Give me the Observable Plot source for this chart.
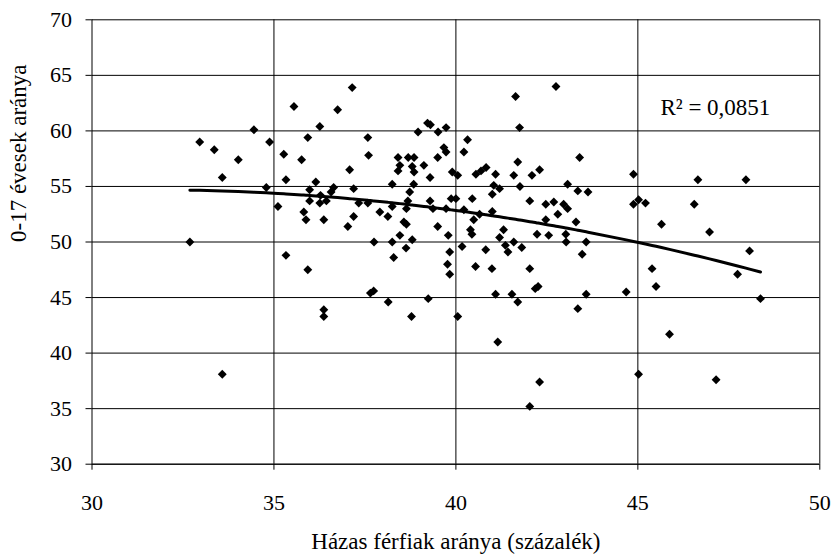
<!DOCTYPE html>
<html>
<head>
<meta charset="utf-8">
<script src="https://cdn.jsdelivr.net/npm/d3@7"></script>
<script src="https://cdn.jsdelivr.net/npm/@observablehq/plot@0.6"></script>
<style>
  html, body { margin: 0; padding: 0; background: #fff; }
  #chart { width: 833px; height: 558px; }
  #chart svg, #chart svg text { font-family: "Liberation Serif", "Times New Roman", serif !important; }
</style>
</head>
<body>
<div id="chart"></div>
<script>
// ---- data ----
const xValues = [
  37.15, 35.55, 36.75, 36.26, 34.45, 32.96, 33.36, 34.88, 35.93, 37.58,
  34.02, 35.27, 35.76, 37.60, 33.58, 35.33, 37.08, 34.79, 36.15, 36.64,
  37.19, 35.98, 36.57, 36.28, 35.98, 36.26, 36.44, 37.33, 37.58, 35.11,
  35.82, 35.88, 36.37, 37.19, 37.03, 32.69,
  42.75, 41.64, 41.75, 39.22, 39.30, 38.96, 39.51, 39.73, 40.32, 43.40,
  39.67, 39.73, 40.22, 39.50, 38.41, 38.69, 38.85, 38.46, 38.41, 38.80,
  38.85, 39.12, 39.29, 39.90, 40.05, 40.55, 40.69, 40.83, 41.09, 41.70,
  41.59, 42.09, 42.30, 44.88, 38.25, 38.84, 41.04, 41.20, 41.76, 43.07,
  43.35, 43.63, 38.73, 38.68, 41.00, 38.25, 38.64, 39.29, 39.37, 39.73,
  39.87, 40.00, 40.45, 40.22, 40.65, 40.49, 41.00, 42.03, 42.47, 42.69,
  42.96, 43.07, 42.80, 42.47, 43.30, 44.88, 45.02, 37.91, 38.13, 38.57,
  38.64, 39.50, 40.40, 41.31, 38.46, 39.79, 40.44, 42.23, 42.55, 43.02,
  37.75, 38.25, 38.80, 38.63, 38.29, 39.83, 39.77, 39.83, 40.17, 41.20,
  41.36, 41.43, 41.59, 41.81, 40.82, 40.54, 40.99, 42.03, 43.03, 43.58,
  43.47, 37.65, 37.74, 38.14, 38.78, 39.24, 40.05, 41.09, 41.54, 41.70,
  42.18, 42.26, 43.35, 43.58, 44.68, 41.15, 42.30, 42.03, 45.02,
  35.33, 35.93, 36.37, 36.37, 33.58,
  45.65, 46.97, 48.07, 45.39, 45.50, 47.74, 48.37, 45.87, 47.15,
  46.65, 47.97, 45.21, 46.55
];
const yValues = [
  63.9, 62.2, 61.9, 60.4, 60.1, 59.0, 58.3, 59.0, 59.4, 59.4,
  57.4, 57.9, 57.4, 57.8, 55.8, 55.6, 56.5, 54.9, 55.4, 54.9,
  54.8, 54.7, 54.5, 54.2, 53.7, 53.5, 53.7, 53.5, 53.5, 53.2,
  52.7, 52.0, 52.0, 52.3, 51.4, 50.0,
  64.0, 63.1, 60.3, 60.7, 60.55, 59.9, 59.9, 60.3, 59.2, 57.6,
  58.5, 58.1, 58.1, 57.6, 57.6, 57.6, 57.6, 56.9, 56.4, 56.8,
  56.3, 56.9, 55.8, 56.3, 56.0, 56.1, 56.4, 56.7, 56.1, 57.2,
  56.0, 56.0, 56.5, 56.1, 55.2, 55.2, 55.1, 54.8, 55.0, 55.2,
  54.6, 54.5, 54.5, 53.7, 54.3, 53.2, 53.0, 53.7, 53.0, 53.0,
  53.9, 53.9, 53.9, 52.9, 52.5, 52.0, 52.75, 53.7, 53.4, 53.6,
  53.4, 53.0, 52.5, 52.0, 51.8, 53.4, 53.8, 52.7, 52.3, 51.8,
  51.6, 51.4, 51.1, 51.1, 50.6, 50.6, 50.7, 50.7, 50.6, 50.7,
  50.0, 50.0, 50.2, 49.45, 48.6, 49.1, 48.0, 47.1, 49.6, 50.4,
  49.7, 49.1, 50.0, 49.5, 49.3, 47.8, 47.6, 47.6, 50.0, 50.0,
  48.9, 45.4, 45.6, 44.6, 43.3, 44.9, 43.3, 45.3, 45.3, 44.6,
  45.8, 46.0, 44.0, 45.3, 45.5, 41.0, 37.4, 35.2, 38.1,
  48.8, 47.5, 43.9, 43.3, 38.1,
  51.6, 50.9, 49.2, 47.6, 46.0, 47.1, 44.9, 41.7, 37.6,
  55.6, 55.6, 53.5, 53.4
];
const xTicks = [30, 35, 40, 45, 50];
const yTicks = [30, 35, 40, 45, 50, 55, 60, 65, 70];
const xTitle = "Házas férfiak aránya (százalék)";
const yTitle = "0-17 évesek aránya";
const r2Label = "R² = 0,0851";
const r2Position = [45.62, 62.1];

// ---- table for Plot ----
const points = xValues.map((x, i) => ({x, y: yValues[i]}));

// second-order polynomial trendline (least squares), as in the original
function polyFit(pts) {
  const c = 40;
  let S = Array.from({length: 5}, () => 0), T = [0, 0, 0];
  for (const p of pts) {
    const u = p.x - c;
    for (let k = 0; k < 5; k++) S[k] += Math.pow(u, k);
    for (let k = 0; k < 3; k++) T[k] += p.y * Math.pow(u, k);
  }
  const A = [[S[0], S[1], S[2], T[0]], [S[1], S[2], S[3], T[1]], [S[2], S[3], S[4], T[2]]];
  for (let i = 0; i < 3; i++) {
    let m = i;
    for (let j = i + 1; j < 3; j++) if (Math.abs(A[j][i]) > Math.abs(A[m][i])) m = j;
    [A[i], A[m]] = [A[m], A[i]];
    for (let j = 0; j < 3; j++) if (j !== i) {
      const f = A[j][i] / A[i][i];
      for (let k = i; k < 4; k++) A[j][k] -= f * A[i][k];
    }
  }
  const b = A.map((row, i) => row[3] / row[i]);
  return x => b[0] + b[1] * (x - c) + b[2] * (x - c) * (x - c);
}
const fit = polyFit(points);
const trend = Array.from(new Set(xValues)).sort((a, b) => a - b).map(x => ({x, y: fit(x)}));

const font = "Liberation Serif";

const chart = Plot.plot({
  width: 833,
  height: 558,
  marginLeft: 91.5,
  marginRight: 13.7,
  marginTop: 19.3,
  marginBottom: 94.3,
  style: {fontFamily: "'Liberation Serif', serif", fontSize: "22px", background: "#fff", color: "#000", overflow: "visible"},
  x: {domain: [30, 50], ticks: xTicks},
  y: {domain: [30, 70], ticks: yTicks},
  marks: [
    Plot.gridY(yTicks, {stroke: "#000", strokeOpacity: 1, strokeWidth: 1}),
    Plot.gridX(xTicks.slice(1), {stroke: "#000", strokeOpacity: 1, strokeWidth: 1}),
    Plot.ruleX([30], {stroke: "#000", strokeWidth: 1}),
    Plot.ruleY([30], {stroke: "#000", strokeWidth: 1}),
    Plot.axisX(xTicks, {tickSize: 6, tickPadding: 24, fontSize: 22, fontFamily: font, label: null, tickFormat: d => String(d)}),
    Plot.axisY(yTicks, {tickSize: 6, tickPadding: 14, fontSize: 22, fontFamily: font, label: null, tickFormat: d => String(d)}),
    Plot.dot(points, {x: "x", y: "y", symbol: "diamond2", r: 4, fill: "#000", stroke: "none"}),
    Plot.line(trend, {x: "x", y: "y", stroke: "#000", strokeWidth: 3}),
    Plot.text([r2Label], {x: () => r2Position[0], y: () => r2Position[1], text: d => d, textAnchor: "start", fontSize: 23, fontFamily: font}),
    Plot.text([xTitle], {frameAnchor: "bottom", dy: 77, text: d => d, fontSize: 23, fontFamily: font, lineAnchor: "middle"}),
    Plot.text([yTitle], {frameAnchor: "left", dx: -73, rotate: -90, text: d => d, fontSize: 23, fontFamily: font, lineAnchor: "middle"})
  ]
});
document.getElementById("chart").appendChild(chart);
</script>
</body>
</html>
